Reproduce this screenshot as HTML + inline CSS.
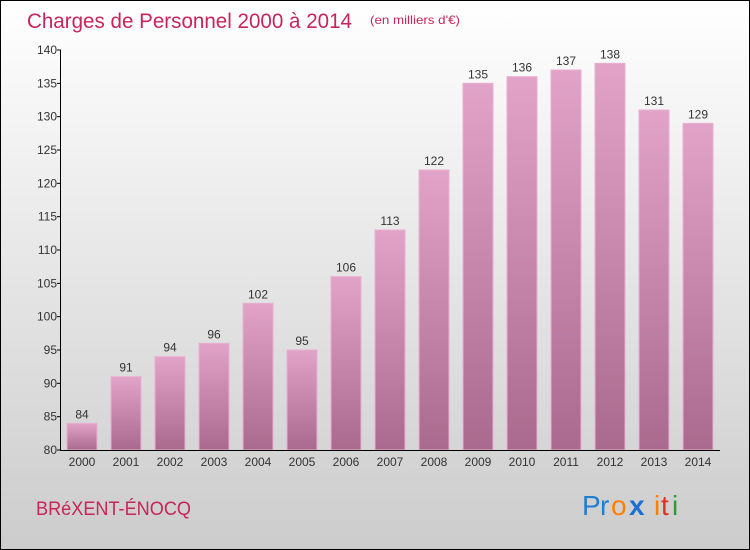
<!DOCTYPE html>
<html><head><meta charset="utf-8"><style>
body{margin:0;}
#c{width:750px;height:550px;position:relative;overflow:hidden;}
svg text{font-family:"Liberation Sans",sans-serif;}
</style></head><body>
<div id="c">
<svg id="s" width="750" height="550" xmlns="http://www.w3.org/2000/svg">
<defs>
<linearGradient id="bg" x1="0" y1="0" x2="0" y2="1"><stop offset="0" stop-color="#ffffff"/><stop offset="1" stop-color="#cccccc"/></linearGradient>
<linearGradient id="bar" x1="0" y1="0" x2="0" y2="1"><stop offset="0" stop-color="#e2a3c8"/><stop offset="1" stop-color="#a96a8e"/></linearGradient>
</defs>
<rect x="0.5" y="0.5" width="749" height="549" fill="url(#bg)" stroke="#000"/>
<text x="27" y="28" font-size="21" fill="#c8255a" textLength="325" lengthAdjust="spacingAndGlyphs">Charges de Personnel 2000 à 2014</text>
<text x="370" y="24" font-size="12" fill="#c8255a" textLength="90" lengthAdjust="spacingAndGlyphs">(en milliers d'€)</text>
<text x="36" y="515" font-size="19" fill="#c8255a" textLength="155" lengthAdjust="spacingAndGlyphs">BRéXENT-ÉNOCQ</text>
<g font-size="28">
<text x="582" y="515" fill="#1e7fd0">P</text><text x="600" y="515" fill="#1e7fd0">r</text><text x="611" y="515" fill="#ff8000">o</text><text x="629" y="515" fill="#1e6fd0" font-weight="bold">x</text><text x="654" y="515" fill="#ff8000">i</text><text x="661" y="515" fill="#e03020">t</text><text x="672" y="515" fill="#2f9a3a">i</text>
</g>
<g id="plot"></g>
</svg>
</div>
<script>
const years=["2000","2001","2002","2003","2004","2005","2006","2007","2008","2009","2010","2011","2012","2013","2014"];
const values=[84,91,94,96,102,95,106,113,122,135,136,137,138,131,129];
const yTicks=[80,85,90,95,100,105,110,115,120,125,130,135,140];
const NS="http://www.w3.org/2000/svg";
const g=document.getElementById('plot');
const y0=450,y1=50,vmin=80,vmax=140;
function yS(v){return y0-(v-vmin)/(vmax-vmin)*(y0-y1);}
function xS(i){return 82+i*44;}
function mk(t,a,txt){const e=document.createElementNS(NS,t);for(const k in a)e.setAttribute(k,a[k]);if(txt!==undefined)e.textContent=txt;g.appendChild(e);return e;}
values.forEach((v,i)=>{
 const r=mk('rect',{x:xS(i)-15,y:yS(v),width:30,height:y0-yS(v),fill:'url(#bar)',stroke:'#e8b0d0','stroke-width':1});
 
 
 const t=mk('text',{x:xS(i),y:yS(v)-5,'text-anchor':'middle','font-size':12,fill:'#333'},String(v));
 
 
 const xl=mk('text',{x:xS(i),y:466,'text-anchor':'middle','font-size':12,fill:'#333'},years[i]);
 
 
});
yTicks.forEach(v=>{
 const l=mk('line',{x1:57,x2:61,y1:yS(v),y2:yS(v),stroke:'#000'});
 
 
 const t=mk('text',{x:57,y:yS(v)+4,'text-anchor':'end','font-size':12,fill:'#333'},String(v));
 
 
});
const ya=mk('line',{x1:60.5,x2:60.5,y1:50,y2:450,stroke:'#000'});


const xa=mk('line',{x1:60,x2:720,y1:450.5,y2:450.5,stroke:'#000'});


</script>
</body></html>
